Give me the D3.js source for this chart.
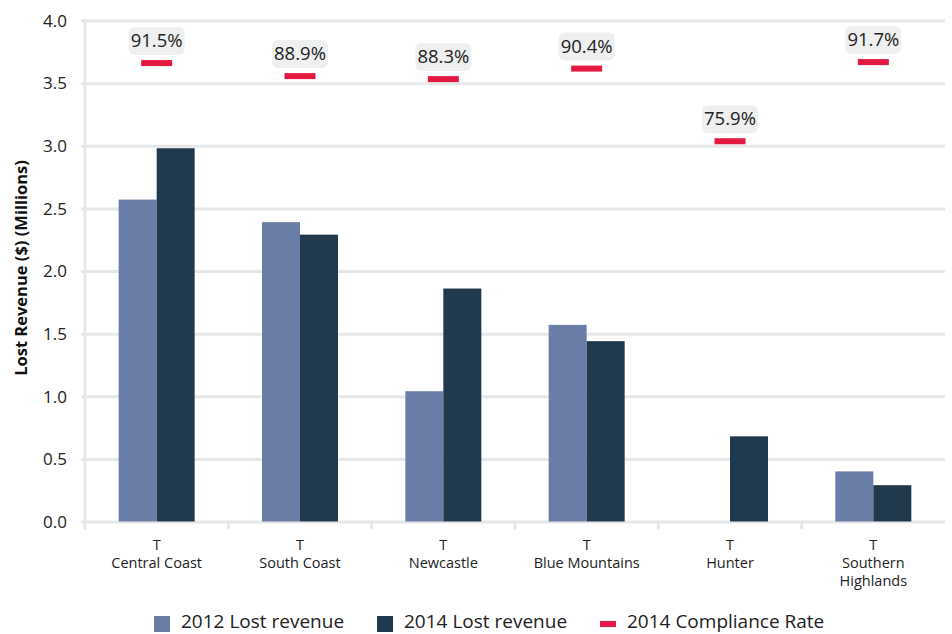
<!DOCTYPE html>
<html>
<head>
<meta charset="utf-8">
<script src="https://cdn.jsdelivr.net/npm/d3@7"></script>
<style>
  html, body { margin: 0; padding: 0; background: #ffffff; }
  svg { display: block; font-family: "Open Sans", "Noto Sans", sans-serif; }
</style>
</head>
<body>
<svg id="chart" width="952" height="634"></svg>
<script>
const categories = ["Central Coast", "South Coast", "Newcastle", "Blue Mountains", "Hunter", "Southern Highlands"];
const categoryLines = [["T", "Central Coast"], ["T", "South Coast"], ["T", "Newcastle"], ["T", "Blue Mountains"], ["T", "Hunter"], ["T", "Southern", "Highlands"]];
const lost2012 = [2.57, 2.39, 1.04, 1.57, null, 0.40];
const lost2014 = [2.98, 2.29, 1.86, 1.44, 0.68, 0.29];
const compliance2014 = [91.5, 88.9, 88.3, 90.4, 75.9, 91.7];
const seriesNames = ["2012 Lost revenue", "2014 Lost revenue", "2014 Compliance Rate"];
const yTicks = [0, 0.5, 1.0, 1.5, 2.0, 2.5, 3.0, 3.5, 4.0];

const colors = { s2012: "#6a7da6", s2014: "#21394d", rate: "#e3193f", grid: "#e6e7e8", pill: "#eeefef", text: "#222222" };

const svg = d3.select("#chart");
const mLeft = 85, mRight = 945, mTop = 20.5, mBottom = 521.5;

const x0 = d3.scaleBand().domain(categories).range([mLeft, mRight]).padding(0);
const x1 = d3.scaleBand().domain(["2012", "2014"]).range([0, x0.bandwidth()]).paddingInner(0).paddingOuter(0.886);
const y = d3.scaleLinear().domain([0, 4]).range([mBottom, mTop]);
const y2 = d3.scaleLinear().domain([0, 100]).range([mBottom, mTop]);

// gridlines + y ticks
const yAxis = d3.axisLeft(y).tickValues(yTicks).tickSize(-(mRight - mLeft) - 4).tickFormat(d3.format(".1f")).tickPadding(14);
const gy = svg.append("g").attr("transform", `translate(${mLeft - 4},0)`).call(yAxis);
gy.select(".domain").remove();
gy.selectAll(".tick line").attr("stroke", colors.grid).attr("stroke-width", 3);
gy.selectAll(".tick text").attr("font-size", 17).attr("fill", colors.text).attr("x", -14).attr("dy", "0.34em").style("font-family", "'Open Sans', sans-serif");

// left axis line
svg.append("line").attr("x1", mLeft).attr("x2", mLeft).attr("y1", y(4) - 1.5).attr("y2", mBottom + 8)
  .attr("stroke", colors.grid).attr("stroke-width", 3);

// bottom ticks at band boundaries
svg.append("g").selectAll("line").data(categories.slice(1)).join("line")
  .attr("x1", d => x0(d)).attr("x2", d => x0(d)).attr("y1", mBottom).attr("y2", mBottom + 8)
  .attr("stroke", colors.grid).attr("stroke-width", 3);

// bars
const groups = svg.append("g").selectAll("g").data(categories).join("g")
  .attr("transform", d => `translate(${x0(d)},0)`);
groups.filter((d, i) => lost2012[i] != null).append("rect")
  .attr("x", x1("2012")).attr("width", x1.bandwidth())
  .attr("y", d => y(lost2012[categories.indexOf(d)]))
  .attr("height", d => mBottom - y(lost2012[categories.indexOf(d)]))
  .attr("fill", colors.s2012);
groups.append("rect")
  .attr("x", x1("2014")).attr("width", x1.bandwidth())
  .attr("y", (d, i) => y(lost2014[i]))
  .attr("height", (d, i) => mBottom - y(lost2014[i]))
  .attr("fill", colors.s2014);

// compliance markers
const mk = svg.append("g").selectAll("g").data(categories).join("g");
mk.append("rect")
  .attr("x", d => x0(d) + x0.bandwidth() / 2 - 15.5).attr("width", 31)
  .attr("y", (d, i) => y2(compliance2014[i]) - 3).attr("height", 6)
  .attr("fill", colors.rate);
mk.append("rect")
  .attr("x", d => x0(d) + x0.bandwidth() / 2 - 28).attr("width", 56)
  .attr("y", (d, i) => y2(compliance2014[i]) - 36).attr("height", 28)
  .attr("rx", 6).attr("fill", colors.pill);
mk.append("text")
  .attr("x", d => x0(d) + x0.bandwidth() / 2)
  .attr("y", (d, i) => y2(compliance2014[i]) - 16)
  .attr("text-anchor", "middle").attr("font-size", 18.5).attr("fill", colors.text)
  .text((d, i) => d3.format(".1f")(compliance2014[i]) + "%");

// x labels
const xl = svg.append("g").selectAll("text").data(categories).join("text")
  .attr("x", d => x0(d) + x0.bandwidth() / 2)
  .attr("y", 550)
  .attr("text-anchor", "middle").attr("font-size", 14.5).attr("fill", colors.text);
xl.each(function(d, i) {
  const t = d3.select(this);
  categoryLines[i].forEach((line, j) => {
    t.append("tspan").attr("x", x0(d) + x0.bandwidth() / 2).attr("dy", j === 0 ? 0 : 18).text(line);
  });
});

// y title
svg.append("text")
  .attr("transform", "translate(27,268) rotate(-90)")
  .attr("text-anchor", "middle").attr("font-size", 16.5).attr("font-weight", "bold").attr("fill", "#111")
  .text("Lost Revenue ($) (Millions)");

// legend
const legend = svg.append("g");
const legX = [154, 377, 600];
legend.append("rect").attr("x", legX[0]).attr("y", 616).attr("width", 16).attr("height", 16).attr("fill", colors.s2012);
legend.append("rect").attr("x", legX[1]).attr("y", 616).attr("width", 16).attr("height", 16).attr("fill", colors.s2014);
legend.append("rect").attr("x", legX[2]).attr("y", 621).attr("width", 16).attr("height", 6).attr("fill", colors.rate);
legend.selectAll("text").data(seriesNames).join("text")
  .attr("x", (d, i) => legX[i] + 27).attr("y", 628)
  .attr("font-size", 19).attr("fill", colors.text)
  .text(d => d);
</script>
</body>
</html>
